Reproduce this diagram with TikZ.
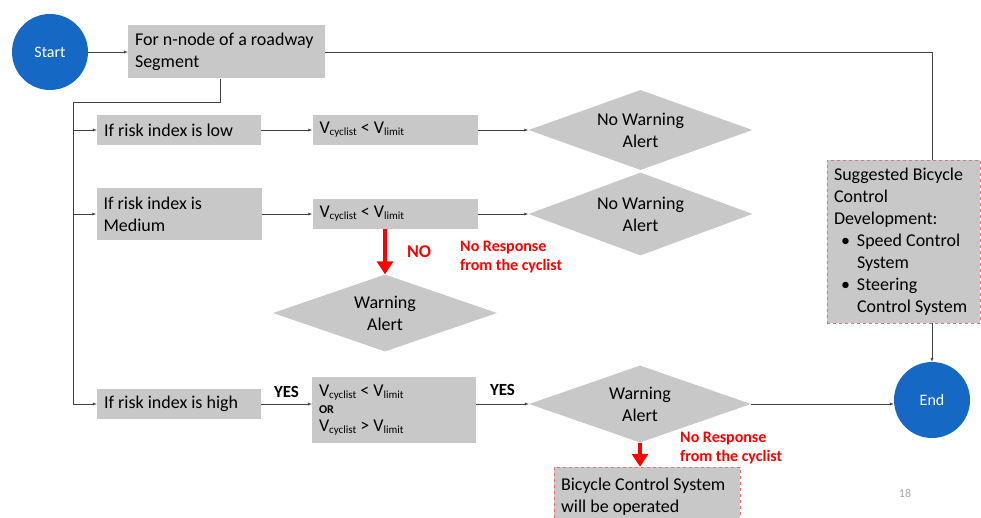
\documentclass[tikz,border=0pt]{standalone}
\usepackage{fontspec}
\setmainfont{Carlito}
\usetikzlibrary{shapes.geometric, arrows, arrows.meta}
\definecolor{startblue}{RGB}{21,104,196}
\definecolor{boxgray}{RGB}{200,200,200}
\definecolor{dashred}{RGB}{238,110,110}
\newcommand{\vsub}[1]{\raisebox{-2pt}{\fontsize{11}{11}\selectfont #1}}
\newcommand{\vcmp}[1]{V\vsub{cyclist} #1 V\vsub{limit}}
\tikzstyle{startstop} = [circle, minimum size=76pt, inner sep=0pt, fill=startblue, text=white, font=\fontsize{16}{19}\selectfont]
\tikzstyle{process} = [rectangle, fill=boxgray, inner xsep=7pt, inner ysep=0pt, align=flush left, font=\fontsize{18}{22}\selectfont]
\tikzstyle{decision} = [diamond, aspect=2.8, inner sep=0pt, minimum width=224pt, minimum height=80pt, fill=boxgray, align=center, font=\fontsize{18}{22}\selectfont]
\tikzstyle{suggest} = [process, draw=dashred, dashed, thin]
\tikzstyle{arrow} = [thin, ->, >=latex, draw=black!75]
\tikzstyle{link} = [thin, draw=black!75]
\tikzstyle{redarrow} = [line width=4pt, red, -{Triangle[width=16pt,length=13pt]}]
\tikzstyle{redlabel} = [text=red, inner sep=0pt, align=flush left, font=\bfseries\fontsize{16}{19}\selectfont]
\tikzstyle{yeslabel} = [inner sep=0pt, font=\bfseries\fontsize{17}{20}\selectfont]

\begin{document}
\begin{tikzpicture}[node distance=216pt, x=1pt, y=-1pt]
    \clip (0,0) rectangle (981,518);
    \node (start) at (50,52) [startstop] {Start};
    \node (seg) at (226.5,52) [process, text width=183pt, minimum height=53pt] {For n-node of a roadway\\Segment};
    \node (low) at (179,130) [process, text width=150pt, minimum height=30pt] {If risk index is low};
    \node (med) at (179,214) [process, text width=151pt, minimum height=52pt] {If risk index is\\Medium};
    \node (high) at (179,404) [process, text width=150pt, minimum height=30pt] {If risk index is high};
    \node (vlow) [process, right of=low, text width=151pt, minimum height=30pt] {\vcmp{<}};
    \node (vmed) [process, right of=med, text width=151pt, minimum height=30pt] {\vcmp{<}};
    \node (vhigh) at (394,410) [process, text width=150pt, minimum height=66pt] {\vcmp{<}\\[-5pt]{\fontsize{12}{12}\selectfont\bfseries OR}\\[-4pt]\vcmp{>}};
    \node (nw1) at (640.5,130) [decision] {No Warning\\Alert};
    \node (nw2) at (640.5,214) [decision, minimum height=83pt] {No Warning\\Alert};
    \node (warn1) at (385,313) [decision, minimum height=77pt] {Warning\\Alert};
    \node (warn2) at (640,404) [decision, minimum height=77pt, minimum width=222pt] {Warning\\Alert};
    \node (end) at (932,400) [startstop] {End};
    \node (sugg) at (903.5,241.5) [suggest, text width=139pt, minimum height=163pt] {Suggested Bicycle\\Control\\Development:\\\hspace*{7pt}\makebox[16pt][l]{\textbullet}Speed Control\\\hspace*{23pt}System\\\hspace*{7pt}\makebox[16pt][l]{\textbullet}Steering\\\hspace*{23pt}Control System};
    \node (bcs) at (647,497) [suggest, text width=172pt, minimum height=60pt] {Bicycle Control System\\will be operated};
    \node (resp1) at (460,257) [redlabel, anchor=west] {No Response\\from the cyclist};
    \node (resp2) at (680,448) [redlabel, anchor=west] {No Response\\from the cyclist};
    \node (page) at (905,493) [text=black!35, font=\fontsize{12}{12}\selectfont] {18};

    \coordinate (trunk) at (73,102);
    \draw [arrow] (start) -- (seg);
    \draw [link] (seg.east) -| (end |- sugg.north);
    \draw [arrow] (end |- sugg.south) -- (end);
    \draw [link] ([xshift=-6.5pt]seg.south) |- (trunk) -- (trunk |- high);
    \draw [arrow] (trunk |- low) -- (low);
    \draw [arrow] (trunk |- med) -- (med);
    \draw [arrow] (trunk |- high) -- (high);
    \draw [arrow] (low) -- (vlow);
    \draw [arrow] (vlow) -- (nw1);
    \draw [arrow] (med) -- (vmed);
    \draw [arrow] (vmed) -- (nw2);
    \draw [redarrow] (warn1 |- vmed.south) -- node (nolbl) [redlabel, right=20pt, font=\bfseries\fontsize{18}{22}\selectfont] {NO} (warn1.north);
    \draw [arrow] (high) -- node (yes1) [yeslabel, above=6pt] {YES} (high -| vhigh.west);
    \draw [arrow] (high -| vhigh.east) -- node (yes2) [yeslabel, above=8pt] {YES} (warn2);
    \draw [arrow] (warn2) -- (warn2 -| end.west);
    \draw [redarrow] (warn2.south) -- (warn2.south |- bcs.north);
\end{tikzpicture}
\end{document}
